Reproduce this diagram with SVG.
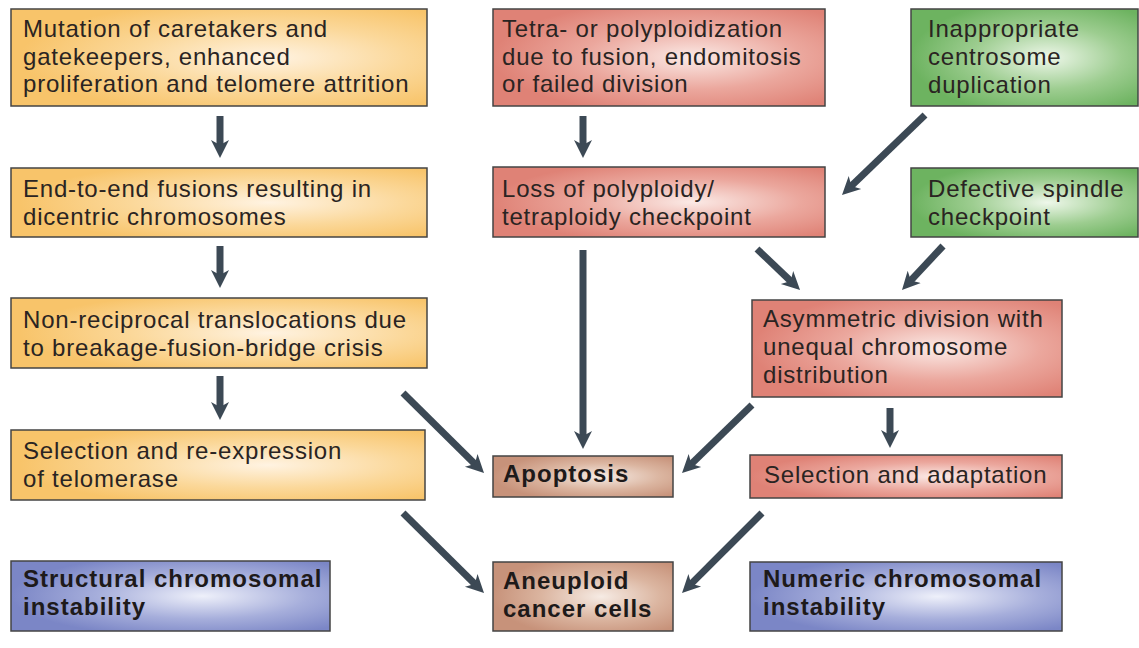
<svg xmlns="http://www.w3.org/2000/svg" width="1139" height="648" viewBox="0 0 1139 648">
<defs>
<radialGradient id="gO" cx="0.62" cy="0.5" r="0.6"><stop offset="0" stop-color="#fff3e2"/><stop offset="0.55" stop-color="#fbd89a"/><stop offset="1" stop-color="#f8c46a"/></radialGradient>
<radialGradient id="gR" cx="0.6" cy="0.5" r="0.6"><stop offset="0" stop-color="#fbeae6"/><stop offset="0.55" stop-color="#eba79d"/><stop offset="1" stop-color="#df8276"/></radialGradient>
<radialGradient id="gG" cx="0.6" cy="0.5" r="0.6"><stop offset="0" stop-color="#eef7ea"/><stop offset="0.55" stop-color="#9dcd90"/><stop offset="1" stop-color="#6db360"/></radialGradient>
<radialGradient id="gB" cx="0.6" cy="0.5" r="0.6"><stop offset="0" stop-color="#eef0fa"/><stop offset="0.55" stop-color="#a6aedb"/><stop offset="1" stop-color="#7b86c6"/></radialGradient>
<radialGradient id="gN" cx="0.6" cy="0.5" r="0.6"><stop offset="0" stop-color="#f6ebe4"/><stop offset="0.55" stop-color="#dbb5a0"/><stop offset="1" stop-color="#c7927a"/></radialGradient>
<marker id="ah" viewBox="0 0 20 20" markerUnits="userSpaceOnUse" markerWidth="20" markerHeight="20" refX="8" refY="10" orient="auto">
<path d="M0,1 L18,10 L0,19 L5,10 z" fill="#3c4955"/>
</marker>
<style>
.box{stroke:#444;stroke-width:1.5}
.o{fill:url(#gO)} .r{fill:url(#gR)} .g{fill:url(#gG)} .b{fill:url(#gB)} .n{fill:url(#gN)}
text{font-family:"Liberation Sans",Arial,sans-serif;font-size:24px;letter-spacing:0.8px;fill:#2a2422}
.bd{font-weight:bold;fill:#1e1a1a;letter-spacing:1px}
.arr line{stroke:#3c4955;stroke-width:7;marker-end:url(#ah)}
</style>
</defs>
<rect width="1139" height="648" fill="#fff"/>

<g id="n1"><rect class="box o" x="11" y="9" width="416" height="97"/>
<text x="23" y="37">Mutation of caretakers and</text><text x="23" y="64.5">gatekeepers, enhanced</text><text x="23" y="92">proliferation and telomere attrition</text></g>
<g id="n2"><rect class="box o" x="11" y="168" width="416" height="69"/>
<text x="23" y="197">End-to-end fusions resulting in</text><text x="23" y="224.5">dicentric chromosomes</text></g>
<g id="n3"><rect class="box o" x="11" y="298" width="416" height="70"/>
<text x="23" y="328">Non-reciprocal translocations due</text><text x="23" y="355.5">to breakage-fusion-bridge crisis</text></g>
<g id="n4"><rect class="box o" x="11" y="430" width="414" height="70"/>
<text x="23" y="459">Selection and re-expression</text><text x="23" y="487">of telomerase</text></g>
<g id="n5"><rect class="box b" x="11" y="561" width="319" height="70"/>
<text class="bd" x="23" y="587">Structural chromosomal</text><text class="bd" x="23" y="615">instability</text></g>

<g id="n6"><rect class="box r" x="493" y="9" width="332" height="97"/>
<text x="502" y="37">Tetra- or polyploidization</text><text x="502" y="64.5">due to fusion, endomitosis</text><text x="502" y="92">or failed division</text></g>
<g id="n7"><rect class="box r" x="493" y="167" width="332" height="70"/>
<text x="502" y="197">Loss of polyploidy/</text><text x="502" y="224.5">tetraploidy checkpoint</text></g>
<g id="n8"><rect class="box n" x="493" y="456" width="180" height="41"/>
<text class="bd" x="503" y="482">Apoptosis</text></g>
<g id="n9"><rect class="box n" x="493" y="562" width="180" height="69"/>
<text class="bd" x="503" y="589">Aneuploid</text><text class="bd" x="503" y="617">cancer cells</text></g>

<g id="n10"><rect class="box g" x="911" y="9" width="227" height="97"/>
<text x="928" y="37">Inappropriate</text><text x="928" y="65">centrosome</text><text x="928" y="93">duplication</text></g>
<g id="n11"><rect class="box g" x="911" y="168" width="227" height="69"/>
<text x="928" y="197">Defective spindle</text><text x="928" y="224.5">checkpoint</text></g>
<g id="n12"><rect class="box r" x="752" y="300" width="310" height="97"/>
<text x="763" y="327">Asymmetric division with</text><text x="763" y="355">unequal chromosome</text><text x="763" y="383">distribution</text></g>
<g id="n13"><rect class="box r" x="750" y="455" width="312" height="43"/>
<text x="764" y="483">Selection and adaptation</text></g>
<g id="n14"><rect class="box b" x="750" y="562" width="312" height="69"/>
<text class="bd" x="763" y="587">Numeric chromosomal</text><text class="bd" x="763" y="615">instability</text></g>

<g id="connectors" class="arr">
<line x1="220" y1="116" x2="220" y2="148"/>
<line x1="220" y1="246" x2="220" y2="278"/>
<line x1="220" y1="376" x2="220" y2="410"/>
<line x1="583" y1="116" x2="583" y2="148"/>
<line x1="925" y1="115" x2="849.2" y2="188.1"/>
<line x1="757" y1="249" x2="792.8" y2="283.1"/>
<line x1="943" y1="246" x2="908.8" y2="282.7"/>
<line x1="583" y1="250" x2="583" y2="439"/>
<line x1="403" y1="393" x2="476.9" y2="466"/>
<line x1="752" y1="405" x2="689.2" y2="466"/>
<line x1="890" y1="408" x2="890" y2="438"/>
<line x1="403" y1="513" x2="476.9" y2="586"/>
<line x1="762" y1="513" x2="689.1" y2="585.9"/>
</g>
</svg>
